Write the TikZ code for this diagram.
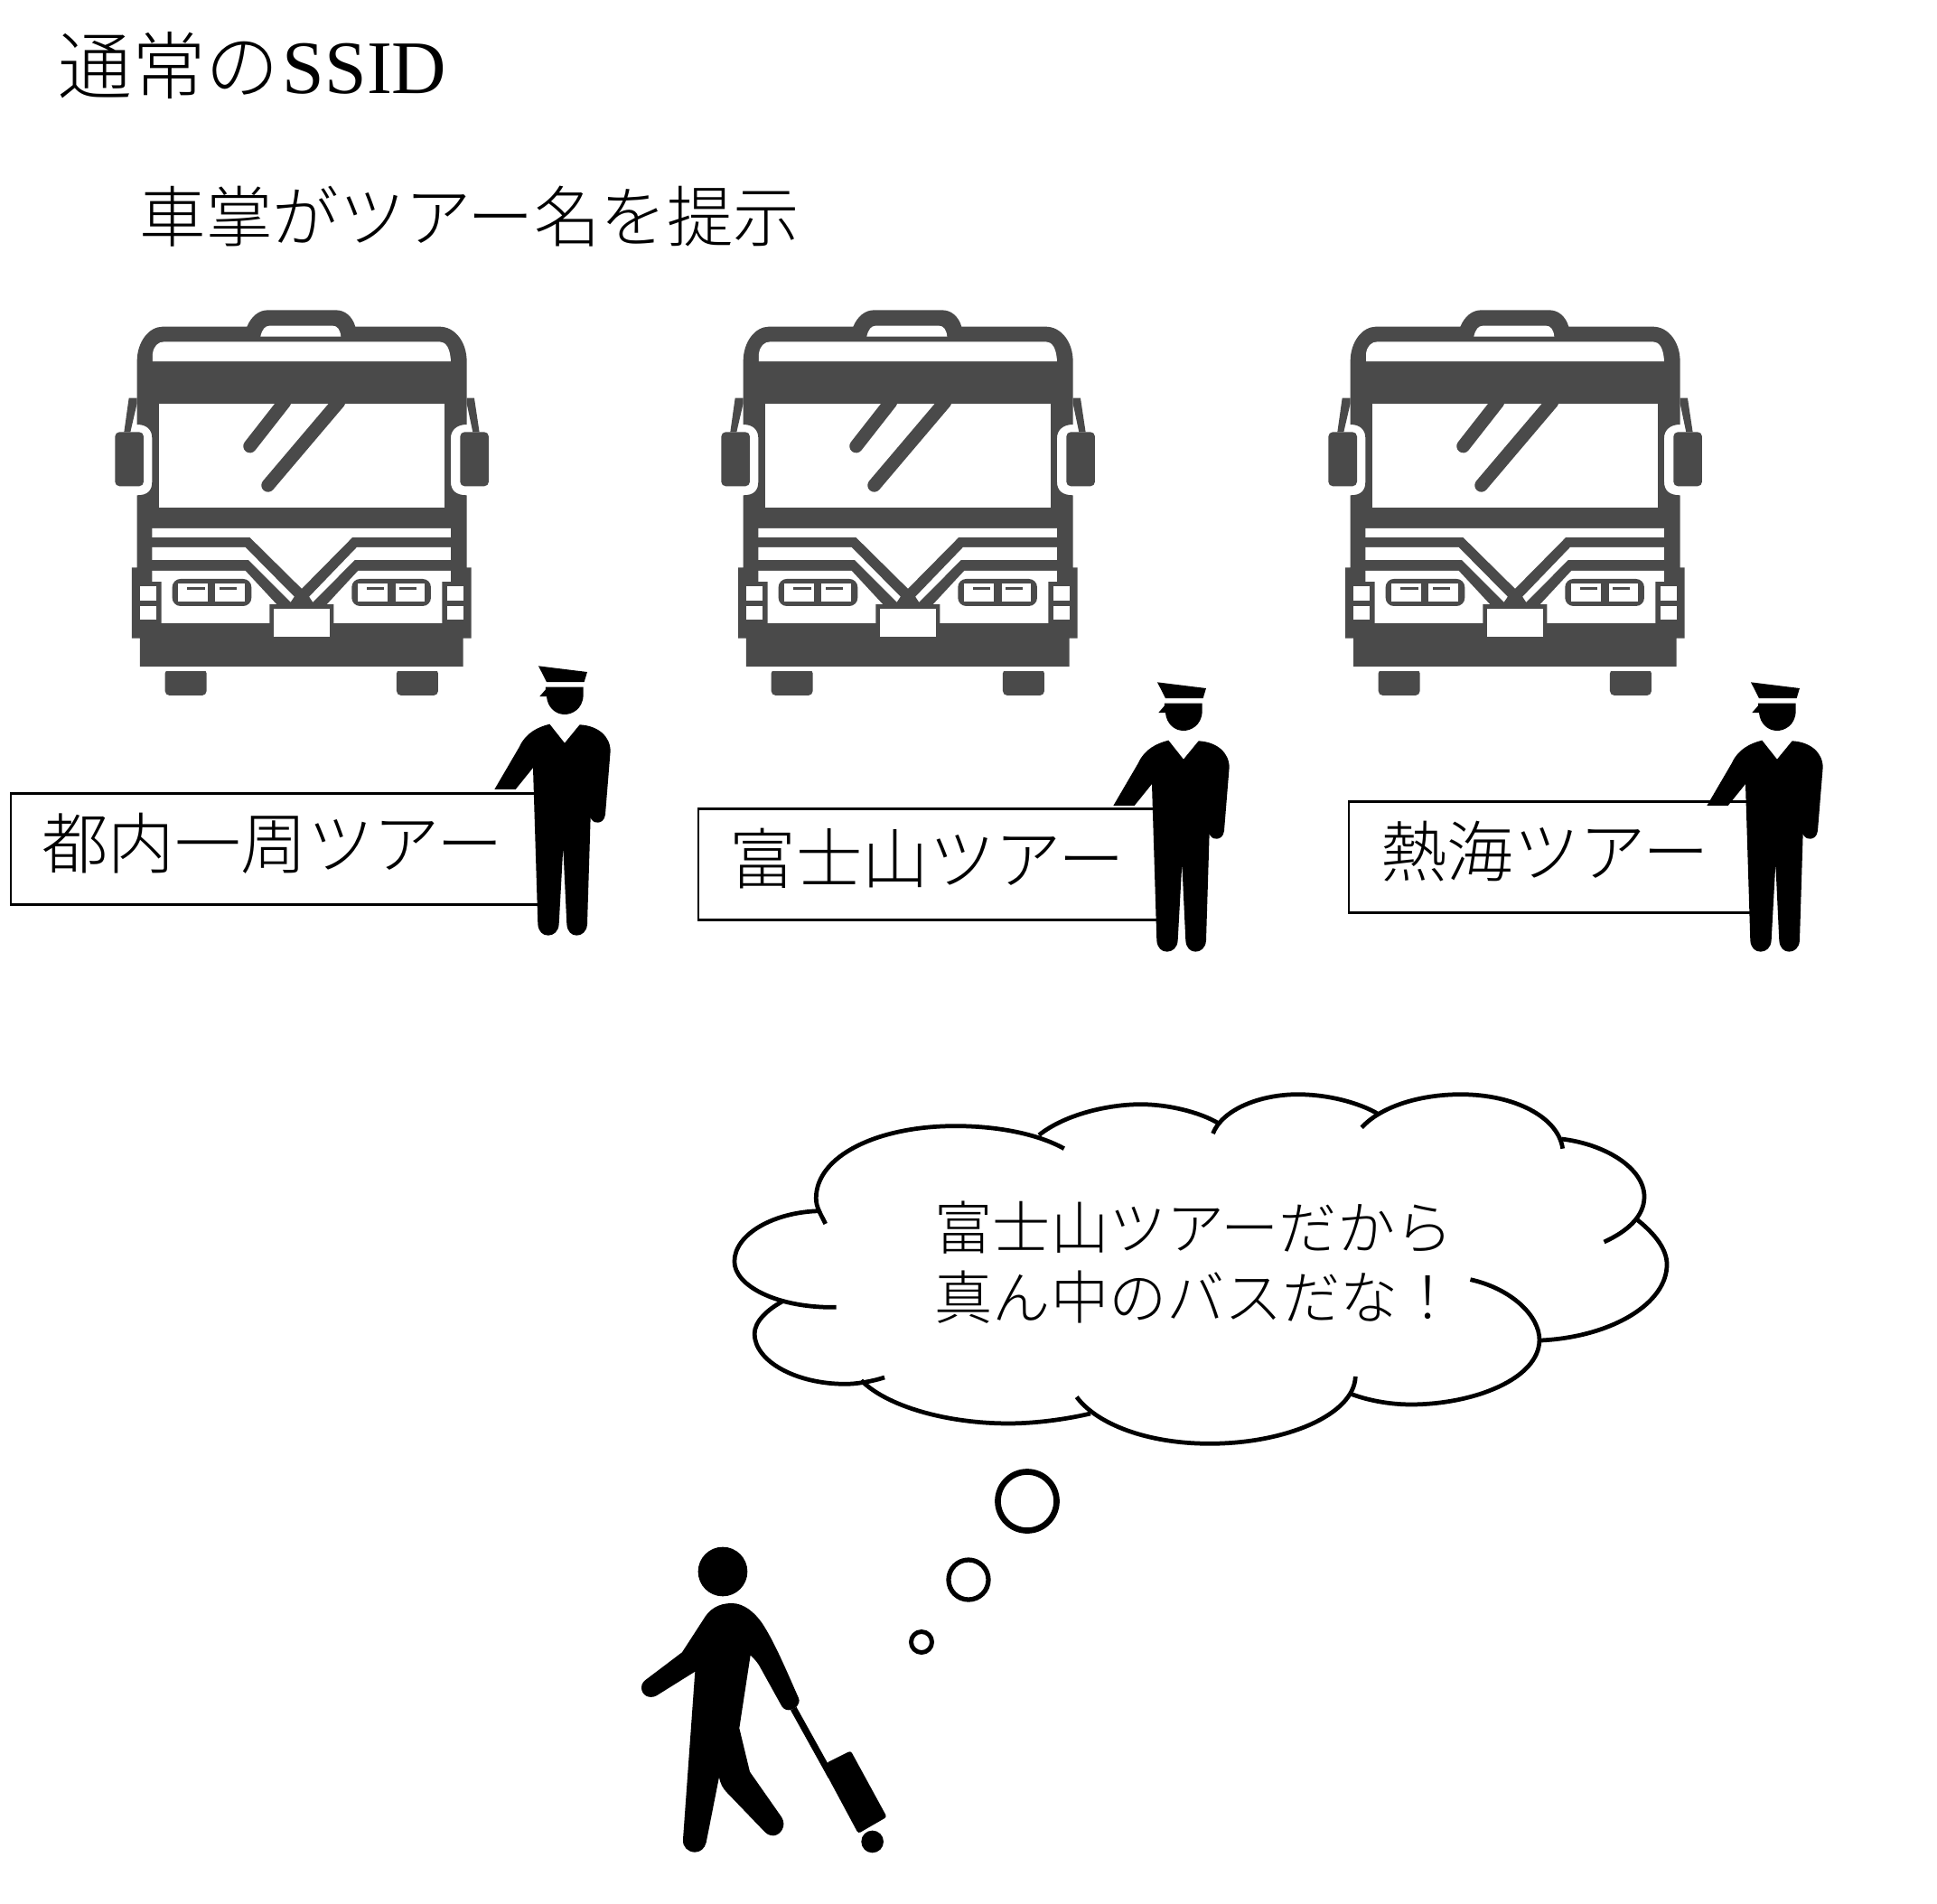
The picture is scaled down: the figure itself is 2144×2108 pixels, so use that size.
\documentclass[tikz,border=0pt]{standalone}
\usepackage{fontspec}
\setmainfont{Liberation Serif}
\newfontfamily\jpfont{Noto Sans CJK JP Light}
\usetikzlibrary{positioning}
\definecolor{busgray}{HTML}{4A4A4A}
\begin{document}
\begin{tikzpicture}
[x=0.01cm,y=-0.01cm,
  busdark/.style={fill=busgray,draw=none},%
  buslight/.style={fill=white,draw=none},%
  signbox/.style={shape=rectangle,draw,fill=white,line width=0.65pt,minimum height=1.23cm,inner sep=0pt},%
  signlabel/.style={font=\jpfont\fontsize{20.9}{24}\selectfont,inner sep=0pt},%
  bubble/.style={shape=circle,draw,fill=white,inner sep=0pt},%
  cloudline/.style={line width=1.35pt,line cap=butt},%
  bus/.pic={
    \begin{scope}[scale=0.3333]
    %% body and roof
    \path[busdark] (155,925) -- (155,685) .. controls (190,685) and (205,670) .. (205,640)
      -- (205,495) .. controls (205,470) and (190,450) .. (155,450) -- (155,240)
      .. controls (155,175) and (195,125) .. (240,125) -- (520,125)
      .. controls (535,90) and (560,70) .. (590,70) -- (815,70)
      .. controls (845,70) and (870,90) .. (880,125) -- (1160,125)
      .. controls (1210,125) and (1250,175) .. (1250,240) -- (1250,450)
      .. controls (1215,450) and (1197,470) .. (1197,495) -- (1197,640)
      .. controls (1197,670) and (1215,685) .. (1250,685) -- (1250,925)
      -- (1265,925) -- (1265,1160) -- (1238,1160) -- (1238,1255) -- (165,1255)
      -- (165,1160) -- (138,1160) -- (138,925) -- cycle;
    %% mirrors
    \foreach \mx in {82, 1228} {
      \path[busdark,rounded corners=1.4pt] (\mx,475) rectangle +(95,180);
    }
    \path[busdark] (128,362) -- (155,362) -- (155,380) -- (133,475) -- (112,475) -- cycle;
    \path[busdark] (1275,362) -- (1250,362) -- (1250,380) -- (1270,475) -- (1292,475) -- cycle;
    %% wheels
    \foreach \wx in {248, 1017} {
      \path[busdark,rounded corners=1.4pt] (\wx,1262) -- (\wx,1350) -- ++(138,0) -- ++(0,-88) -- cycle;
    }
    \path[buslight] (100,1255) rectangle (1300,1270);
    %% glass
    \path[buslight] (207,240) -- (207,215) .. controls (210,190) and (225,175) .. (245,175)
      -- (1160,175) .. controls (1180,175) and (1195,195) .. (1197,240) -- cycle;
    \path[buslight] (565,158) .. controls (570,135) and (580,122) .. (595,122) -- (805,122)
      .. controls (820,122) and (830,135) .. (832,158) -- cycle;
    \path[buslight] (228,380) rectangle (1175,725);
    \draw[busgray,line width=4.2pt,line cap=round] (530,522) -- (645,375);
    \draw[busgray,line width=4.2pt,line cap=round] (590,652) -- (825,375);
    %% stripes
    \path[buslight] (205,795) -- (1197,795) -- (1197,825) -- (870,825) -- (702,995) -- (530,825) -- (205,825) -- cycle;
    \path[buslight] (205,858) -- (515,858) -- (677,1022) -- (665,1040) -- (525,900) -- (205,900) -- cycle;
    \path[buslight] (1197,858) -- (885,858) -- (727,1022) -- (739,1040) -- (878,900) -- (1197,900) -- cycle;
    \path[buslight] (205,936) -- (515,936) -- (618,1047) -- (595,1047) -- (595,1110) -- (236,1110) -- (236,972) -- (205,972) -- cycle;
    \path[buslight] (1197,936) -- (889,936) -- (786,1047) -- (808,1047) -- (808,1110) -- (1168,1110) -- (1168,972) -- (1197,972) -- cycle;
    \path[buslight] (610,1062) rectangle (795,1155);
    %% lamps
    \foreach \lx/\la/\lb in {272/292/415, 868/888/1013} {
      \path[busdark,rounded corners=2.6pt] (\lx,963) rectangle +(263,90);
      \path[buslight] (\la,978) rectangle +(98,60);
      \path[buslight] (\lb,978) rectangle +(98,60);
      \path[busdark] (\la+30,991) rectangle +(58,7);
      \path[busdark] (\lb+13,991) rectangle +(58,7);
    }
    \foreach \sx in {165, 1185} {
      \path[buslight] (\sx,988) rectangle +(53,48);
      \path[buslight] (\sx,1053) rectangle +(53,45);
    }
    \end{scope}
  },
  conductor/.pic={
    \begin{scope}[scale=0.3333]
    \fill (228,52) -- (390,72) -- (380,105) -- (255,105) -- cycle;
    \fill (252,122) -- (377,122) -- (377,150) .. controls (375,195) and (340,213) .. (315,213)
      .. controls (285,213) and (258,190) .. (255,153) -- (232,153) -- (252,130) -- cycle;
    \fill (265,245) -- (315,308) -- (365,247) .. controls (425,250) and (467,285) .. (467,335)
      -- (450,545) .. controls (448,565) and (435,572) .. (425,572) .. controls (412,572) and (404,565) .. (401,555)
      -- (390,910) .. controls (388,935) and (372,947) .. (355,947) .. controls (338,947) and (324,935) .. (322,910)
      -- (310,655) -- (296,910) .. controls (294,935) and (278,947) .. (260,947) .. controls (243,947) and (228,935) .. (226,910)
      -- (210,390) -- (152,462) -- (82,462) -- (165,320) .. controls (185,275) and (225,255) .. (265,245) -- cycle;
    \end{scope}
  },
  traveller/.pic={
    \begin{scope}[scale=0.3333]
    \fill (360,180) circle (82);
    \fill (390,285) .. controls (430,285) and (465,315) .. (490,350) .. controls (530,410) and (570,505) .. (612,600)
      .. controls (620,620) and (600,640) .. (580,640) .. controls (565,640) and (558,632) .. (552,620)
      -- (480,490) .. controls (470,475) and (460,465) .. (452,458) -- (415,700) -- (450,845) -- (555,995)
      .. controls (575,1025) and (550,1057) .. (528,1057) .. controls (512,1057) and (505,1050) .. (495,1040)
      -- (375,915) .. controls (360,900) and (352,885) .. (348,862) -- (305,1080)
      .. controls (300,1100) and (285,1112) .. (268,1112) .. controls (245,1112) and (226,1095) .. (228,1070)
      -- (268,512) -- (140,592) .. controls (115,605) and (90,590) .. (90,565) .. controls (90,550) and (100,542) .. (110,535)
      -- (225,448) -- (295,340) .. controls (315,305) and (345,285) .. (390,285) -- cycle;
    \draw[line width=2.1pt] (595,635) -- (720,860);
    \fill[rounded corners=0.8pt] (705,815) -- (785,775) -- (905,995) -- (810,1050) -- (700,845) -- cycle;
    \fill (857,1077) circle (37);
    \end{scope}
  }]
\fill[white] (0,0) rectangle (2144,2108);
\useasboundingbox (0,0) rectangle (2144,2108);
%% headings
\node (title) [anchor=west,inner sep=0pt] at (64,72)
  {\jpfont\fontsize{23.2}{26}\selectfont 通常の\rmfamily\fontsize{23.8}{26}\selectfont\kern1pt SSID};
\node (subtitle) [signlabel,anchor=west] at (154,240) {車掌がツアー名を提示};
%% buses
\foreach \busname/\x/\y in {busa/100/320, busb/771/320, busc/1443/320} {
  \pic (\busname) at (\x,\y) {bus};
}
%% signs and conductors
\foreach \signname/\x/\y/\w/\gap/\labeltext/\px/\py in {
  signa/306/940/5.88/0.35/都内一周ツアー/520/720,
  signb/1030/957/5.13/0.35/富士山ツアー/1205/738,
  signc/1718/949/4.5/0.36/熱海ツアー/1862/738} {
  \node (\signname) at (\x,\y) [signbox,minimum width=\w cm] {};
  \node (\signname label) [signlabel,right=\gap cm of \signname.west,yshift=0.06cm] {\labeltext};
  \pic (\signname man) at (\px,\py) {conductor};
}
%% thought cloud
\begin{scope}[shift={(790,1200)},xscale=0.695,yscale=0.3333]
\draw[cloudline] (178,465) .. controls (170,430) and (163,410) .. (163,380) .. controls (163,240) and (260,140) .. (385,140) .. controls (450,140) and (515,165) .. (558,215);
\draw[cloudline] (518,170) .. controls (560,100) and (630,68) .. (680,68) .. controls (725,68) and (775,95) .. (803,130);
\draw[cloudline] (795,165) .. controls (810,85) and (870,35) .. (930,35) .. controls (985,35) and (1035,70) .. (1058,100);
\draw[cloudline] (1032,145) .. controls (1060,80) and (1120,35) .. (1190,35) .. controls (1275,35) and (1345,110) .. (1352,215);
\draw[cloudline] (1350,183) .. controls (1420,200) and (1482,280) .. (1482,375) .. controls (1482,440) and (1455,490) .. (1418,525);
\draw[cloudline] (1470,450) .. controls (1500,500) and (1518,550) .. (1518,600) .. controls (1518,730) and (1430,840) .. (1318,852);
\draw[cloudline] (1205,650) .. controls (1270,680) and (1315,770) .. (1315,850) .. controls (1315,980) and (1210,1065) .. (1110,1065) .. controls (1075,1065) and (1040,1050) .. (1015,1030);
\draw[cloudline] (1022,972) .. controls (1020,1100) and (910,1195) .. (790,1195) .. controls (690,1195) and (610,1130) .. (578,1040);
\draw[cloudline] (600,1095) .. controls (560,1115) and (510,1128) .. (470,1128) .. controls (370,1128) and (275,1070) .. (235,985);
\draw[cloudline] (272,975) .. controls (250,990) and (225,997) .. (210,997) .. controls (130,997) and (65,920) .. (65,830) .. controls (65,790) and (85,750) .. (110,722);
\draw[cloudline] (195,742) .. controls (100,745) and (33,670) .. (33,590) .. controls (33,500) and (95,425) .. (170,422);
\end{scope}
\node (thought) [anchor=west,align=left,inner sep=0pt,font=\jpfont\fontsize{18.25}{21.9}\selectfont] at (1034,1398)
  {富士山ツアーだから\\真ん中のバスだな！};
%% bubbles
\foreach \bubblename/\x/\y/\d/\lw in {bubblea/1137/1662/0.65/1.9, bubbleb/1072/1749/0.44/1.5, bubblec/1020/1818/0.23/1.4} {
  \node (\bubblename) at (\x,\y) [bubble,minimum size=\d cm,line width=\lw pt] {};
}
%% passenger
\pic (passenger) at (680,1680) {traveller};
\end{tikzpicture}
\end{document}
